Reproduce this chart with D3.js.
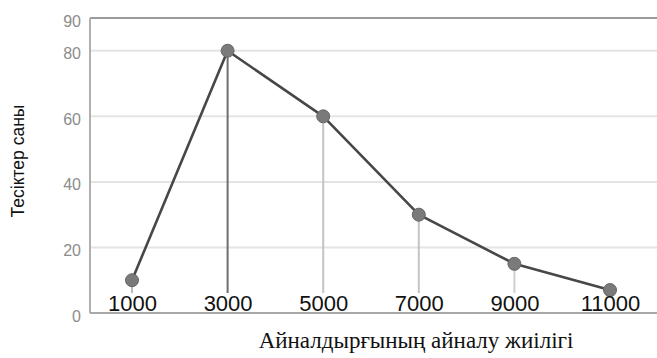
<!DOCTYPE html>
<html>
<head>
<meta charset="utf-8">
<script src="https://cdn.jsdelivr.net/npm/d3@7/dist/d3.min.js"></script>
<style>
  html, body { margin: 0; padding: 0; background: #fff; }
  svg { display: block; }
</style>
</head>
<body>
<svg id="chart" width="657" height="358"></svg>
<script>
// Rotation frequency (x) and number of holes (y)
const frequencies = [1000, 3000, 5000, 7000, 9000, 11000];
const holeCounts = [10, 80, 60, 30, 15, 7];
const yTicks = [0, 20, 40, 60, 80, 90];
const gridValues = [20, 40, 60, 80];
const xTitle = "Айналдырғының айналу жиілігі";
const yTitle = "Тесіктер саны";

// Colours of the vertical drop lines, one per point
const dropColors = ["#bbbbbb", "#6e6e6e", "#c4c4c4", "#c4c4c4", "#cfcfcf", "#dddddd"];

const svg = d3.select("#chart");
const plotLeft = 90, plotRight = 657, plotTop = 18, plotBottom = 313;

const x = d3.scaleLinear().domain([1000, 11000]).range([132, 610]);
const y = d3.scaleLinear().domain([0, 90]).range([plotBottom, plotTop]);

// Horizontal grid lines
svg.append("g").selectAll("line").data(gridValues).join("line")
  .attr("x1", plotLeft).attr("x2", plotRight)
  .attr("y1", d => y(d)).attr("y2", d => y(d))
  .attr("stroke", "#e4e4e4").attr("stroke-width", 2);

// Frame: top, left and bottom
svg.append("line").attr("x1", plotLeft).attr("x2", plotRight)
  .attr("y1", y(90)).attr("y2", y(90))
  .attr("stroke", "#9a9a9a").attr("stroke-width", 2);
svg.append("line").attr("x1", plotLeft).attr("x2", plotLeft)
  .attr("y1", y(90)).attr("y2", y(0))
  .attr("stroke", "#b0b0b0").attr("stroke-width", 2);
svg.append("line").attr("x1", plotLeft).attr("x2", plotRight)
  .attr("y1", y(0)).attr("y2", y(0))
  .attr("stroke", "#a8a8a8").attr("stroke-width", 2);

// Y axis tick labels
const yAxis = d3.axisLeft(y).tickValues(yTicks).tickSize(0).tickPadding(9);
const gy = svg.append("g").attr("transform", `translate(${plotLeft},0)`).call(yAxis);
gy.select(".domain").remove();
gy.selectAll("text")
  .attr("dy", "0.5em")
  .attr("font-family", "Arial, 'Liberation Sans', sans-serif")
  .attr("font-size", 16)
  .attr("fill", "#8c8c8c");

const pts = frequencies.map((f, i) => ({ f, v: holeCounts[i], c: dropColors[i] }));

// Vertical drop lines from each point toward the axis
svg.append("g").selectAll("line").data(pts).join("line")
  .attr("x1", d => x(d.f)).attr("x2", d => x(d.f))
  .attr("y1", d => y(d.v)).attr("y2", y(0) - 20)
  .attr("stroke", d => d.c).attr("stroke-width", 2);

// Data line
const line = d3.line().x(d => x(d.f)).y(d => y(d.v));
svg.append("path").datum(pts)
  .attr("d", line)
  .attr("fill", "none")
  .attr("stroke", "#474747")
  .attr("stroke-width", 2.6)
  .attr("stroke-linejoin", "round");

// Markers
svg.append("g").selectAll("circle").data(pts).join("circle")
  .attr("cx", d => x(d.f)).attr("cy", d => y(d.v))
  .attr("r", 6.5)
  .attr("fill", "#7a7a7a")
  .attr("stroke", "#666")
  .attr("stroke-width", 1);

// X axis tick labels sitting on the baseline
const xAxis = d3.axisBottom(x).tickValues(frequencies).tickSize(0).tickPadding(0)
  .tickFormat(d3.format("d"));
const gx = svg.append("g").attr("transform", `translate(0,${y(0)})`).call(xAxis);
gx.select(".domain").remove();
gx.selectAll("text")
  .attr("y", -2).attr("dy", 0)
  .attr("font-family", "Arial, 'Liberation Sans', sans-serif")
  .attr("font-size", 22)
  .attr("fill", "#111");

// Axis titles
svg.append("text")
  .attr("x", 416).attr("y", 348)
  .attr("text-anchor", "middle")
  .attr("font-family", "'Times New Roman', 'Liberation Serif', serif")
  .attr("font-size", 23)
  .attr("fill", "#111")
  .text(xTitle);

svg.append("text")
  .attr("transform", "translate(24,161) rotate(-90)")
  .attr("text-anchor", "middle")
  .attr("font-family", "Arial, 'Liberation Sans', sans-serif")
  .attr("font-size", 17.5)
  .attr("fill", "#111")
  .text(yTitle);
</script>
</body>
</html>
